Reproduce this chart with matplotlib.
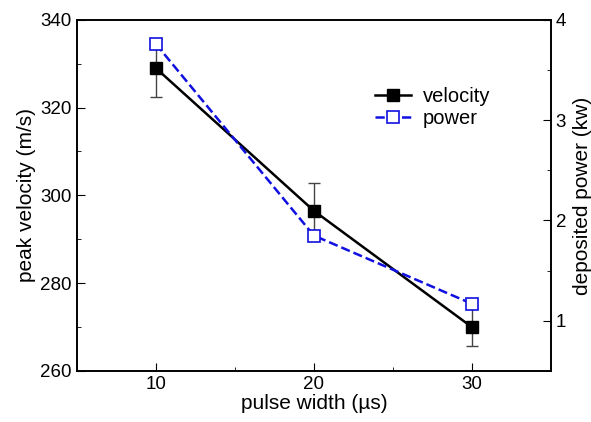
import matplotlib
matplotlib.use("Agg")
import matplotlib.pyplot as plt
from matplotlib.ticker import MultipleLocator
from matplotlib.lines import Line2D

plt.rcParams['font.family'] = ['Liberation Sans', 'DejaVu Sans']

# data
pulse_width = [10, 20, 30]
velocity = [329, 296.5, 270]
velocity_err = [6.6, 6.3, 4.3]
power = [3.76, 1.85, 1.17]

fig = plt.figure(figsize=(5.91, 4.22), dpi=100)
ax = fig.add_axes([0.130, 0.121, 0.802, 0.832])
ax2 = ax.twinx()

ax.errorbar(pulse_width, velocity, yerr=velocity_err, color='black', marker='s',
            markersize=8, linewidth=1.8, ecolor='#444444', elinewidth=1, capsize=4,
            capthick=1)
ax2.plot(pulse_width, power, color='#1010e0', linestyle='--', linewidth=1.8,
         marker='s', markersize=8, markerfacecolor='white',
         markeredgecolor='#1010e0', markeredgewidth=1.2)

ax.set_xlim(5, 35)
ax.set_ylim(260, 340)
ax2.set_ylim(0.5, 4)
ax.set_xticks([10, 20, 30])
ax.xaxis.set_minor_locator(MultipleLocator(5))
ax.set_yticks([260, 280, 300, 320, 340])
ax.yaxis.set_minor_locator(MultipleLocator(10))
ax2.set_yticks([1, 2, 3, 4])
ax2.yaxis.set_minor_locator(MultipleLocator(0.5))

ax.tick_params(axis='both', which='both', direction='in', labelsize=13.5)
ax.tick_params(which='major', length=6)
ax.tick_params(which='minor', length=3)
ax2.tick_params(axis='y', which='both', direction='in', labelsize=13.5)
ax2.tick_params(which='major', length=6)
ax2.tick_params(which='minor', length=3)

for a in (ax, ax2):
    for s in a.spines.values():
        s.set_linewidth(1.2)

ax.set_xlabel('pulse width (µs)', fontsize=15, labelpad=1)
ax.set_ylabel('peak velocity (m/s)', fontsize=15, labelpad=3)
ax2.set_ylabel('deposited power (kw)', fontsize=15, labelpad=5)

# legend handles without the error bars
h1 = Line2D([], [], color='black', linewidth=1.8, marker='s', markersize=8)
h2 = Line2D([], [], color='#1010e0', linestyle='--', linewidth=1.8, marker='s',
            markersize=8, markerfacecolor='white', markeredgecolor='#1010e0',
            markeredgewidth=1.2)
ax2.legend([h1, h2], ['velocity', 'power'], loc='upper left',
           bbox_to_anchor=(0.59, 0.86), frameon=False, fontsize=14.5,
           handlelength=1.8, handletextpad=0.6, labelspacing=0.15)

fig.savefig('out.png', dpi=100)
